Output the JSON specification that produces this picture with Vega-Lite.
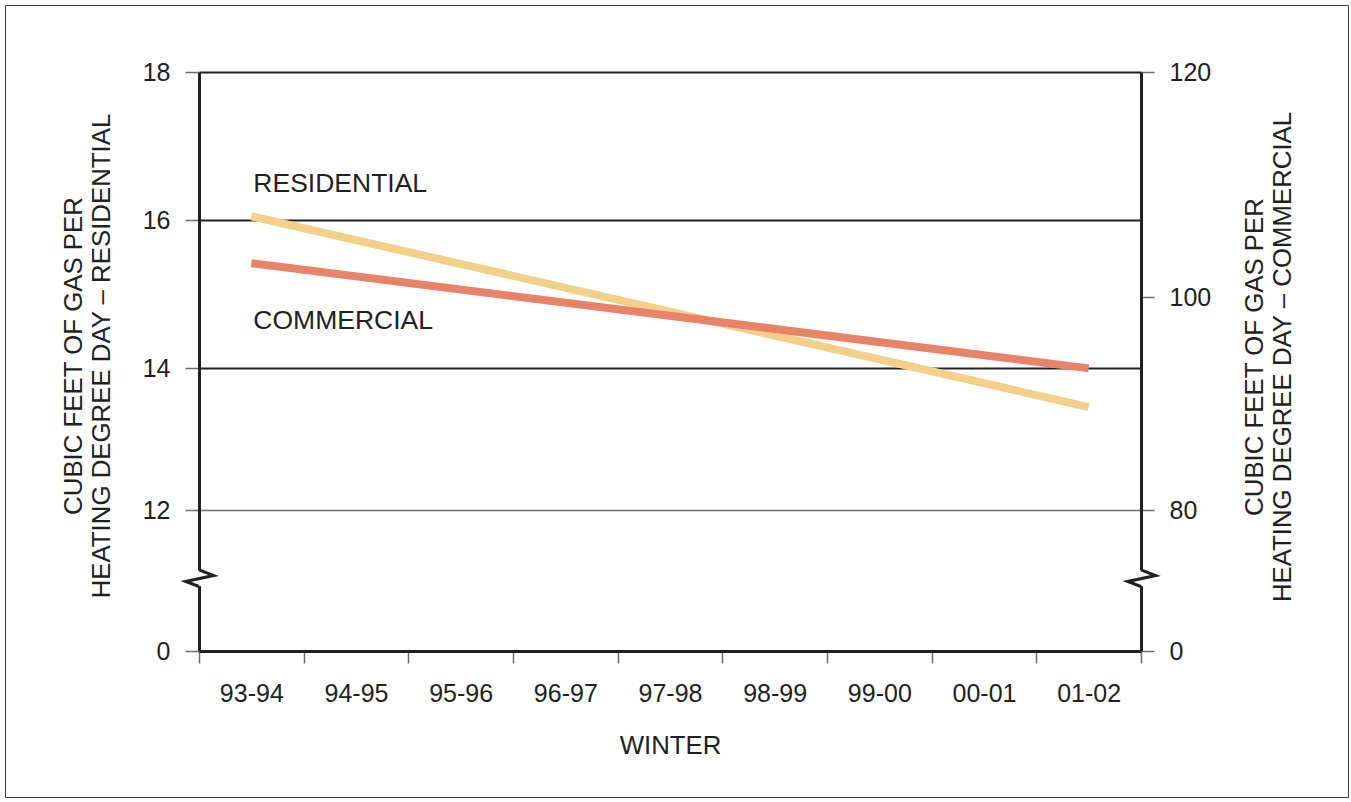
{
  "$schema": "https://vega.github.io/schema/vega-lite/v6.json",
  "width": 1343,
  "height": 792,
  "autosize": {"type": "none"},
  "padding": {"left": 5, "top": 5, "right": 3, "bottom": 5},
  "background": "white",
  "config": {
    "view": {"stroke": "#3a3a3a", "strokeWidth": 1},
    "font": "Liberation Sans",
    "axis": {
      "labelFont": "Liberation Sans",
      "titleFont": "Liberation Sans",
      "labelColor": "#231F20",
      "titleColor": "#231F20",
      "titleFontWeight": "normal",
      "labelFontSize": 25,
      "titleFontSize": 25.8,
      "domainColor": "#231F20",
      "domainWidth": 3,
      "tickColor": "#6d6d6d",
      "tickWidth": 1.5
    }
  },
  "datasets": {
    "residential": [
      {"winter": "93-94", "value": 16.05},
      {"winter": "01-02", "value": 13.45}
    ],
    "commercial": [
      {"winter": "93-94", "value": 103.0},
      {"winter": "01-02", "value": 93.3}
    ],
    "labels": [
      {"winter": "93-94", "label": "RESIDENTIAL", "value": 16.49},
      {"winter": "93-94", "label": "COMMERCIAL", "value": 14.64}
    ]
  },
  "layer": [
    {
      "data": {"name": "residential"},
      "mark": {"type": "line", "color": "#F3CF8A", "strokeWidth": 8, "strokeCap": "butt"},
      "encoding": {
        "x": {
          "field": "winter", "type": "nominal",
          "scale": {"domain": ["93-94","94-95","95-96","96-97","97-98","98-99","99-00","00-01","01-02"], "range": [194, 1136], "paddingInner": 0, "paddingOuter": 0},
          "axis": {
            "orient": "bottom", "offset": -146, "tickBand": "extent", "grid": false,
            "tickSize": 12, "labelPadding": 18, "labelAngle": 0,
            "title": "WINTER", "titleY": 94, "titleBaseline": "middle"
          }
        },
        "y": {
          "field": "value", "type": "quantitative",
          "scale": {"type": "linear", "domain": [0, 12, 14, 16, 18], "range": [646, 505, 363, 215, 67], "nice": false, "zero": false},
          "axis": {
            "orient": "left", "offset": -194, "values": [0, 12, 14, 16, 18],
            "grid": true,
            "gridColor": {"condition": {"test": "datum.value === 12", "value": "#6d6d6d"}, "value": "#231F20"},
            "gridWidth": {"condition": {"test": "datum.value === 12", "value": 1.5}, "value": 2},
            "gridOpacity": {"condition": {"test": "datum.value === 0", "value": 0}, "value": 1},
            "tickSize": 14, "labelPadding": 15,
            "title": ["CUBIC FEET OF GAS PER", "HEATING DEGREE DAY – RESIDENTIAL"],
            "titleAngle": 270, "titleX": -126, "titleY": 350.5, "titleBaseline": "middle", "titleAlign": "center", "titleLineHeight": 28
          }
        }
      }
    },
    {
      "data": {"name": "commercial"},
      "mark": {"type": "line", "color": "#E8836A", "strokeWidth": 8, "strokeCap": "butt"},
      "encoding": {
        "x": {"field": "winter", "type": "nominal", "scale": {"domain": ["93-94","94-95","95-96","96-97","97-98","98-99","99-00","00-01","01-02"], "range": [194, 1136], "paddingInner": 0, "paddingOuter": 0}, "axis": null},
        "y": {
          "field": "value", "type": "quantitative",
          "scale": {"type": "linear", "domain": [0, 80, 100, 120], "range": [646, 505, 292, 67], "nice": false, "zero": false},
          "axis": {
            "orient": "right", "offset": -207, "values": [0, 80, 100, 120], "grid": false,
            "tickSize": 13, "labelPadding": 15,
            "title": ["CUBIC FEET OF GAS PER", "HEATING DEGREE DAY – COMMERCIAL"],
            "titleAngle": 270, "titleX": 113.5, "titleY": 351.5, "titleBaseline": "middle", "titleAlign": "center", "titleLineHeight": 28
          }
        }
      }
    },
    {
      "data": {"name": "labels"},
      "mark": {"type": "text", "align": "left", "baseline": "middle", "dx": 2, "fontSize": 26.5, "font": "Liberation Sans", "color": "#231F20"},
      "encoding": {
        "x": {"field": "winter", "type": "nominal", "scale": {"domain": ["93-94","94-95","95-96","96-97","97-98","98-99","99-00","00-01","01-02"], "range": [194, 1136], "paddingInner": 0, "paddingOuter": 0}, "axis": null},
        "y": {"field": "value", "type": "quantitative", "scale": {"type": "linear", "domain": [0, 12, 14, 16, 18], "range": [646, 505, 363, 215, 67], "nice": false, "zero": false}, "axis": null},
        "text": {"field": "label", "type": "nominal"}
      }
    },
    {
      "data": {"values": [{}]},
      "mark": {"type": "point", "shape": "square", "filled": true, "fill": "white", "strokeWidth": 0, "size": 256, "opacity": 1},
      "encoding": {
        "x": {"datum": "93-94", "type": "nominal", "bandPosition": 0, "scale": {"domain": ["93-94","94-95","95-96","96-97","97-98","98-99","99-00","00-01","01-02"], "range": [194, 1136], "paddingInner": 0, "paddingOuter": 0}, "axis": null},
        "y": {"datum": 6.2, "type": "quantitative", "scale": {"type": "linear", "domain": [0, 12, 14, 16, 18], "range": [646, 505, 363, 215, 67], "nice": false, "zero": false}, "axis": null}
      }
    },
    {
      "data": {"values": [{}]},
      "mark": {"type": "point", "shape": "square", "filled": true, "fill": "white", "strokeWidth": 0, "size": 256, "opacity": 1},
      "encoding": {
        "x": {"datum": "01-02", "type": "nominal", "bandPosition": 1, "scale": {"domain": ["93-94","94-95","95-96","96-97","97-98","98-99","99-00","00-01","01-02"], "range": [194, 1136], "paddingInner": 0, "paddingOuter": 0}, "axis": null},
        "y": {"datum": 6.2, "type": "quantitative", "scale": {"type": "linear", "domain": [0, 12, 14, 16, 18], "range": [646, 505, 363, 215, 67], "nice": false, "zero": false}, "axis": null}
      }
    },
    {
      "data": {"values": [{}]},
      "mark": {"type": "point", "shape": "M0,-0.52L0.92,-0.16L-0.83,0.21L0,0.52", "filled": false, "stroke": "#231F20", "strokeWidth": 3, "strokeJoin": "miter", "size": 1024, "opacity": 1},
      "encoding": {
        "x": {"datum": "93-94", "type": "nominal", "bandPosition": 0, "scale": {"domain": ["93-94","94-95","95-96","96-97","97-98","98-99","99-00","00-01","01-02"], "range": [194, 1136], "paddingInner": 0, "paddingOuter": 0}, "axis": null},
        "y": {"datum": 6.2, "type": "quantitative", "scale": {"type": "linear", "domain": [0, 12, 14, 16, 18], "range": [646, 505, 363, 215, 67], "nice": false, "zero": false}, "axis": null}
      }
    },
    {
      "data": {"values": [{}]},
      "mark": {"type": "point", "shape": "M0,-0.52L0.92,-0.16L-0.83,0.21L0,0.52", "filled": false, "stroke": "#231F20", "strokeWidth": 3, "strokeJoin": "miter", "size": 1024, "opacity": 1},
      "encoding": {
        "x": {"datum": "01-02", "type": "nominal", "bandPosition": 1, "scale": {"domain": ["93-94","94-95","95-96","96-97","97-98","98-99","99-00","00-01","01-02"], "range": [194, 1136], "paddingInner": 0, "paddingOuter": 0}, "axis": null},
        "y": {"datum": 6.2, "type": "quantitative", "scale": {"type": "linear", "domain": [0, 12, 14, 16, 18], "range": [646, 505, 363, 215, 67], "nice": false, "zero": false}, "axis": null}
      }
    }
  ],
  "resolve": {"scale": {"y": "independent"}, "axis": {"x": "independent"}}
}
